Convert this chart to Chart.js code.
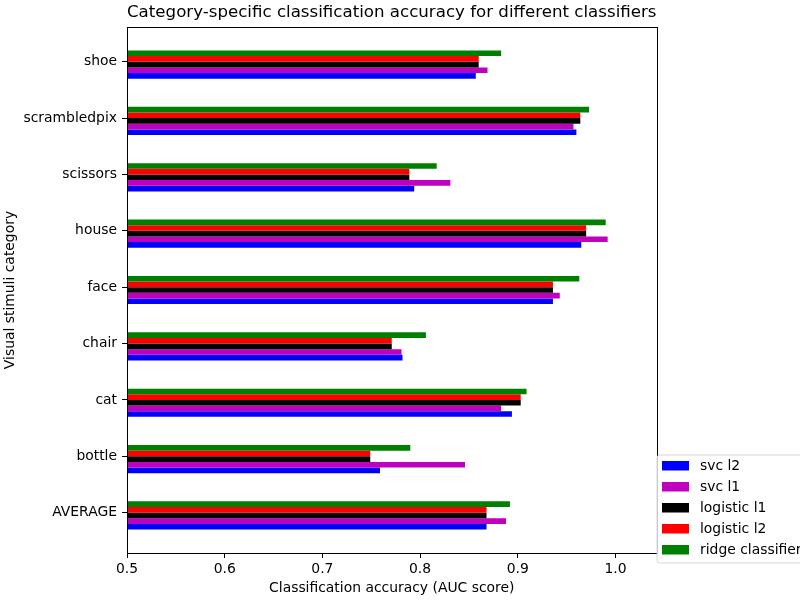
<!DOCTYPE html>
<html>
<head>
<meta charset="utf-8">
<script src="https://cdn.jsdelivr.net/npm/chart.js@4/dist/chart.umd.min.js"></script>
<style>
  html, body { margin: 0; padding: 0; background: #fff; overflow: hidden; }
  #wrap { width: 800px; height: 600px; }
</style>
</head>
<body>
<div id="wrap"><canvas id="c" width="800" height="600"></canvas></div>
<script>
// Categories, bottom to top as in the original figure
const categories = ['AVERAGE', 'bottle', 'cat', 'chair', 'face', 'house', 'scissors', 'scrambledpix', 'shoe'];
const svcL2      = [0.868, 0.759, 0.894, 0.782, 0.936, 0.965, 0.794, 0.960, 0.857];
const svcL1      = [0.888, 0.846, 0.883, 0.781, 0.943, 0.992, 0.831, 0.957, 0.869];
const logisticL1 = [0.868, 0.749, 0.903, 0.771, 0.936, 0.970, 0.789, 0.964, 0.860];
const logisticL2 = [0.868, 0.749, 0.903, 0.771, 0.936, 0.970, 0.789, 0.964, 0.860];
const ridge      = [0.892, 0.790, 0.909, 0.806, 0.963, 0.990, 0.817, 0.973, 0.883];
const xTickValues = [0.5, 0.6, 0.7, 0.8, 0.9, 1.0];

const GROUP_SHIFT = 0.05; // pandas-style group offset relative to the tick
const FONT = 'DejaVu Sans';
const FONT_SIZE = 13.9;

function toPoints(arr) {
  return arr.map((v, i) => ({ x: v, y: i - GROUP_SHIFT }));
}

// dataset order: top of group first (Chart.js stacks from top pixel downward)
const datasets = [
  { label: 'ridge classifier', data: toPoints(ridge), backgroundColor: '#008000' },
  { label: 'logistic l2', data: toPoints(logisticL2), backgroundColor: '#ff0000' },
  { label: 'logistic l1', data: toPoints(logisticL1), backgroundColor: '#000000' },
  { label: 'svc l1', data: toPoints(svcL1), backgroundColor: '#bf00bf' },
  { label: 'svc l2', data: toPoints(svcL2), backgroundColor: '#0000ff' }
];

const framePlugin = {
  id: 'frame',
  afterDatasetsDraw(chart) {
    const { ctx, chartArea: a } = chart;
    ctx.save();
    ctx.strokeStyle = '#000';
    ctx.lineWidth = 1;
    ctx.strokeRect(Math.round(a.left) + 0.5, Math.round(a.top) + 0.5,
                   Math.round(a.right - a.left), Math.round(a.bottom - a.top));
    ctx.restore();
  }
};

const legendPlugin = {
  id: 'mplLegend',
  afterDraw(chart) {
    const ctx = chart.ctx;
    const x0 = 657, y0 = 455, w = 170, h = 108, r = 3;
    ctx.save();
    ctx.beginPath();
    ctx.moveTo(x0 + r, y0);
    ctx.lineTo(x0 + w - r, y0);
    ctx.arcTo(x0 + w, y0, x0 + w, y0 + r, r);
    ctx.lineTo(x0 + w, y0 + h - r);
    ctx.arcTo(x0 + w, y0 + h, x0 + w - r, y0 + h, r);
    ctx.lineTo(x0 + r, y0 + h);
    ctx.arcTo(x0, y0 + h, x0, y0 + h - r, r);
    ctx.lineTo(x0, y0 + r);
    ctx.arcTo(x0, y0, x0 + r, y0, r);
    ctx.closePath();
    ctx.fillStyle = 'rgba(255,255,255,0.8)';
    ctx.fill();
    ctx.strokeStyle = 'rgba(204,204,204,0.8)';
    ctx.lineWidth = 1;
    ctx.stroke();
    const items = chart.data.datasets.slice().reverse();
    ctx.font = FONT_SIZE + 'px "' + FONT + '"';
    ctx.textBaseline = 'middle';
    ctx.textAlign = 'left';
    items.forEach((ds, i) => {
      const py = 461 + i * 21;
      ctx.fillStyle = ds.backgroundColor;
      ctx.fillRect(662, py, 27, 9.5);
      ctx.fillStyle = '#000';
      ctx.fillText(ds.label, 700, py + 5);
    });
    ctx.restore();
  }
};

Chart.defaults.font.family = FONT;
Chart.defaults.font.size = FONT_SIZE;
Chart.defaults.color = '#000';

new Chart(document.getElementById('c'), {
  type: 'bar',
  data: { datasets },
  options: {
    indexAxis: 'y',
    responsive: false,
    animation: false,
    events: [],
    categoryPercentage: 0.5,
    barPercentage: 1.0,
    layout: { padding: { left: 0, right: 143.5, top: 0, bottom: 0 } },
    plugins: {
      legend: { display: false },
      tooltip: { enabled: false },
      title: {
        display: true,
        text: 'Category-specific classification accuracy for different classifiers',
        fullSize: false,
        font: { size: 16.7, weight: 'normal' },
        color: '#000',
        padding: { top: 2.5, bottom: 4.5 }
      }
    },
    scales: {
      x: {
        type: 'linear',
        min: 0.5,
        max: 1.042,
        afterBuildTicks(scale) { scale.ticks = xTickValues.map(v => ({ value: v })); },
        afterFit(scale) { scale.height = 47; },
        ticks: {
          autoSkip: false,
          maxRotation: 0,
          padding: 3,
          callback: (v) => Number(v).toFixed(1)
        },
        grid: { display: true, drawOnChartArea: false, drawTicks: true, tickLength: 5, tickColor: '#000', color: '#000' },
        border: { display: true, color: '#000', width: 1 },
        title: { display: true, text: 'Classification accuracy (AUC score)', padding: { top: 0, bottom: 3.5 } }
      },
      y: {
        type: 'linear',
        offset: false,
        min: -0.716,
        max: 8.616,
        afterBuildTicks(scale) { scale.ticks = categories.map((c, i) => ({ value: i })); },
        afterFit(scale) { scale.width = 127; },
        ticks: {
          autoSkip: false,
          padding: 5,
          callback: (v) => categories[Math.round(v)]
        },
        grid: { display: true, offset: false, drawOnChartArea: false, drawTicks: true, tickLength: 5, tickColor: '#000', color: '#000' },
        border: { display: true, color: '#000', width: 1 },
        title: { display: true, text: 'Visual stimuli category', padding: { top: 2, bottom: 0 } }
      }
    }
  },
  plugins: [framePlugin, legendPlugin]
});
</script>
</body>
</html>
